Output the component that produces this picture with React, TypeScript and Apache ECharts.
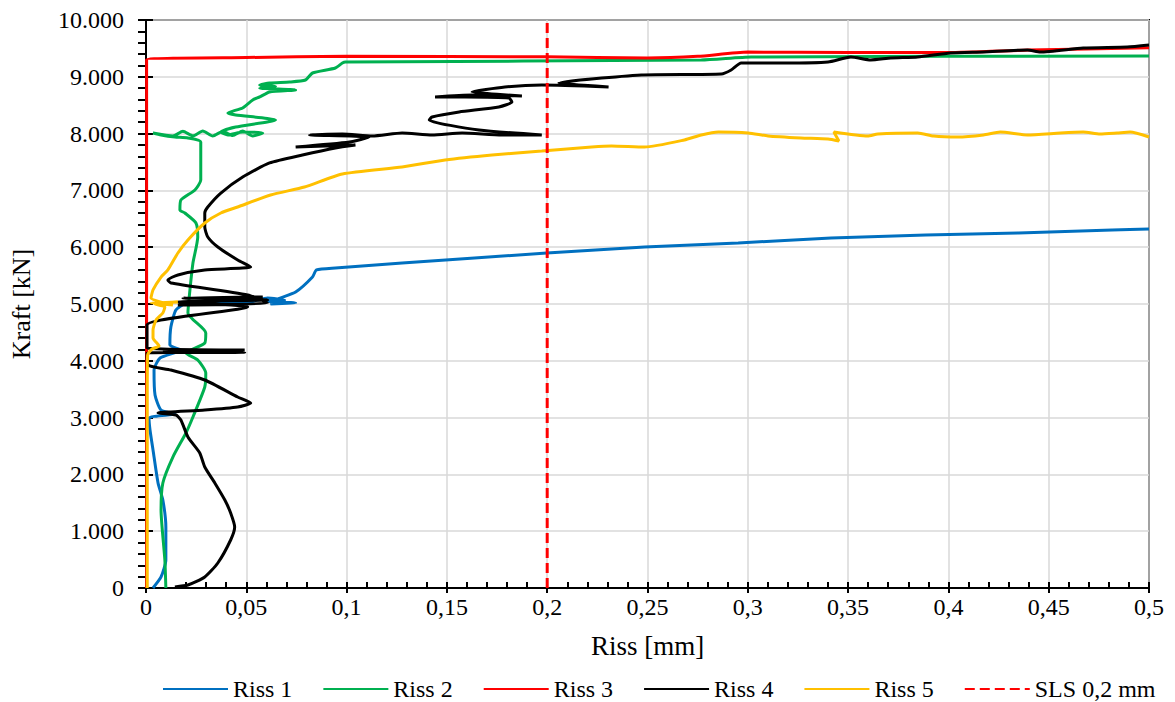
import React, { useEffect, useRef } from 'react';
import * as echarts from 'echarts';

// [Riss (mm), Kraft (kN)]
const riss1 = [
  [0.0035, 0], [0.0075, 194], [0.0099, 493], [0.0099, 1074], [0.0084, 1549], [0.006, 1849],
  [0.0035, 2430], [0.002, 2782], [0.0015, 2993], [0.0144, 3063], [0.0075, 3134], [0.0045, 3398],
  [0.004, 3838], [0.007, 4049], [0.0174, 4190], [0.0119, 4278], [0.0124, 4595], [0.0149, 4894],
  [0.0194, 5000], [0.0517, 5035], [0.0606, 5106], [0.0691, 5070], [0.0591, 5053], [0.0746, 5018],
  [0.0621, 5000], [0.0656, 5088], [0.0746, 5211], [0.083, 5475], [0.085, 5599], [0.0944, 5634],
  [0.1277, 5722], [0.1998, 5898], [0.2485, 6004], [0.2952, 6074], [0.3415, 6162], [0.3887, 6215],
  [0.4349, 6250], [0.4816, 6303], [0.5, 6320],
];

const riss2 = [
  [0.0099, 0], [0.0094, 493], [0.0075, 1373], [0.0084, 1849], [0.0134, 2306], [0.0199, 2729],
  [0.0234, 3011], [0.0293, 3539], [0.0298, 3785], [0.0258, 4014], [0.0199, 4137], [0.0293, 4313],
  [0.0298, 4490], [0.0209, 4842], [0.0219, 5247], [0.0234, 5722], [0.0258, 6180], [0.0249, 6426],
  [0.0194, 6602], [0.0169, 6655], [0.0174, 6831], [0.0244, 7007], [0.0273, 7183], [0.0273, 7852],
  [0.0209, 7923], [0.0144, 7940], [0.0075, 7976], [0.0035, 8011], [0.0134, 7958], [0.0184, 8040],
  [0.0234, 7960], [0.0283, 8046], [0.0333, 7958], [0.0383, 8040], [0.0432, 7965], [0.0482, 8046],
  [0.0532, 7958], [0.0582, 8011], [0.0482, 8028], [0.0408, 7976], [0.0373, 8028], [0.0447, 8116],
  [0.0646, 8240], [0.0447, 8328], [0.0408, 8363], [0.0482, 8451], [0.0532, 8592], [0.0567, 8645],
  [0.0616, 8733], [0.0746, 8768], [0.0567, 8800], [0.0646, 8830], [0.0567, 8856], [0.0616, 8891],
  [0.0716, 8908], [0.0795, 8944], [0.083, 9067], [0.0944, 9155], [0.0979, 9243], [0.0994, 9261],
  [0.2768, 9296], [0.3017, 9349], [0.5, 9366],
];

const riss3 = [
  [0.0003, 0], [0.0003, 9300], [0.05, 9340], [0.1, 9360], [0.2, 9352], [0.25, 9330],
  [0.275, 9360], [0.3, 9435], [0.35, 9430], [0.4, 9428], [0.44, 9470], [0.5, 9510],
];

const riss4 = [
  [0.0144, 18], [0.0209, 53], [0.0293, 194], [0.0358, 440], [0.0422, 845], [0.0442, 1074],
  [0.0422, 1320], [0.0393, 1549], [0.0343, 1849], [0.0293, 2130], [0.0268, 2377], [0.0209, 2658],
  [0.0174, 2958], [0.0149, 3046], [0.006, 3081], [0.0293, 3134], [0.0457, 3187], [0.0522, 3257],
  [0.0457, 3363], [0.0293, 3662], [0.0124, 3838], [0.001, 3926], [0.0005, 4137], [0.0492, 4150],
  [0.0084, 4190], [0.0492, 4190], [0.0005, 4230], [0.0005, 4630], [0.0507, 4947], [0.0159, 5035],
  [0.0606, 5070], [0.0184, 5106], [0.0582, 5123], [0.0159, 4982], [0.0606, 5018], [0.0507, 5159],
  [0.0124, 5370], [0.0109, 5423], [0.0159, 5511], [0.0293, 5599], [0.0522, 5652], [0.0457, 5775],
  [0.0358, 6004], [0.0308, 6180], [0.0293, 6356], [0.0293, 6602], [0.0308, 6708], [0.0373, 6954],
  [0.0482, 7236], [0.0616, 7483], [0.078, 7623], [0.0944, 7747], [0.1044, 7800], [0.0746, 7764],
  [0.1014, 7852], [0.1113, 7940], [0.0815, 7976], [0.0979, 7994], [0.1128, 7958], [0.1277, 8011],
  [0.1426, 7976], [0.1576, 8011], [0.1774, 7976], [0.1973, 7976], [0.166, 8063], [0.1412, 8240],
  [0.1426, 8293], [0.1561, 8381], [0.1759, 8469], [0.1824, 8557], [0.1809, 8627], [0.159, 8645],
  [0.1441, 8645], [0.1625, 8680], [0.1874, 8663], [0.1625, 8733], [0.1789, 8821], [0.1973, 8856],
  [0.2306, 8821], [0.2058, 8891], [0.247, 9032], [0.2868, 9049], [0.2917, 9120], [0.2967, 9243],
  [0.3181, 9243], [0.34, 9261], [0.3514, 9349], [0.3613, 9296], [0.3713, 9331], [0.3847, 9349],
  [0.4011, 9419], [0.4175, 9437], [0.4394, 9472], [0.4458, 9437], [0.4672, 9507], [0.4891, 9525],
  [0.5, 9560],
];

const riss5 = [
  [0.0006, 0], [0.0006, 3310], [0.0008, 4102], [0.003, 4208], [0.0065, 4261], [0.0035, 4402],
  [0.0035, 4542], [0.005, 4718], [0.0084, 4842], [0.0094, 4947], [0.0045, 5000], [0.0159, 5035],
  [0.0025, 5018], [0.0134, 4982], [0.0025, 5106], [0.0035, 5247], [0.0075, 5475], [0.0109, 5599],
  [0.0159, 5898], [0.0209, 6127], [0.0293, 6426], [0.0373, 6602], [0.0457, 6708], [0.0621, 6919],
  [0.079, 7060], [0.0979, 7289], [0.1277, 7412], [0.1491, 7535], [0.1725, 7623], [0.1973, 7694],
  [0.2222, 7764], [0.2321, 7782], [0.2485, 7764], [0.2684, 7888], [0.2768, 7976], [0.2853, 8028],
  [0.3002, 8011], [0.3101, 7958], [0.3265, 7923], [0.34, 7905], [0.3454, 7870], [0.3429, 8028],
  [0.3598, 7958], [0.3648, 7993], [0.3847, 8011], [0.3926, 7958], [0.4046, 7940], [0.4175, 7976],
  [0.4259, 8028], [0.4394, 7976], [0.4558, 8011], [0.4672, 8028], [0.4756, 7993], [0.4841, 8011],
  [0.4906, 8028], [0.5, 7940],
];

const slsLine = [[0.2, 0], [0.2, 10000]];

const seriesNames = ['Riss 1', 'Riss 2', 'Riss 3', 'Riss 4', 'Riss 5', 'SLS 0,2 mm'];
const seriesColors = ['#0070C0', '#00B050', '#FF0000', '#000000', '#FFC000', '#FF0000'];
const seriesData = [riss1, riss2, riss3, riss4, riss5, slsLine];

const xMin = 0, xMax = 0.5, xStep = 0.05;
const yMin = 0, yMax = 10000, yStep = 1000;

export default function App() {
  const ref = useRef<HTMLDivElement>(null);
  useEffect(() => {
    document.body.style.margin = '0';
    const chart = echarts.init(ref.current!, null, { renderer: 'svg' });
    const font = 'Times New Roman, Liberation Serif, Tinos, DejaVu Serif, serif';
    const fmtY = (v: number) => {
      if (v === 0) return '0';
      const k = Math.floor(v / 1000);
      const r = Math.round(v % 1000);
      return k + '.' + String(r).padStart(3, '0');
    };
    const fmtX = (v: number) => String(parseFloat(v.toFixed(2))).replace('.', ',');
    const black = { color: '#000', width: 2 };
    chart.setOption({
      animation: false,
      backgroundColor: '#fff',
      grid: { left: 143, right: 26, top: 20, bottom: 114, show: true, borderColor: '#000', borderWidth: 2 },
      xAxis: [
        {
          type: 'value', min: xMin, max: xMax, interval: xStep, position: 'bottom',
          axisLine: { lineStyle: black },
          axisTick: { length: 5, lineStyle: black },
          axisLabel: { formatter: fmtX, color: '#000', fontFamily: font, fontSize: 24, margin: 7 },
          splitLine: { lineStyle: { color: '#d9d9d9', width: 1.5 } },
          name: 'Riss [mm]', nameLocation: 'middle', nameGap: 44,
          nameTextStyle: { color: '#000', fontFamily: font, fontSize: 27 },
        },
        {
          type: 'value', min: xMin, max: xMax, interval: xStep, position: 'bottom',
          axisLine: { show: false },
          axisTick: { show: true, inside: true, length: 6, lineStyle: black },
          minorTick: { show: true, splitNumber: 5, length: 6, lineStyle: black },
          axisLabel: { show: false }, splitLine: { show: false },
        },
      ],
      yAxis: [
        {
          type: 'value', min: yMin, max: yMax, interval: yStep, position: 'left',
          axisLine: { show: true, lineStyle: black },
          axisTick: { show: true, length: 8, lineStyle: black },
          minorTick: { show: true, splitNumber: 5, length: 8, lineStyle: black },
          axisLabel: { formatter: fmtY, color: '#000', fontFamily: font, fontSize: 24, margin: 22 },
          splitLine: { lineStyle: { color: '#d9d9d9', width: 1.5 } },
          name: 'Kraft [kN]', nameLocation: 'middle', nameGap: 112,
          nameTextStyle: { color: '#000', fontFamily: font, fontSize: 26 },
        },
        {
          type: 'value', min: yMin, max: yMax, interval: yStep, position: 'left',
          axisLine: { show: false },
          axisTick: { show: true, inside: true, length: 7, lineStyle: black },
          axisLabel: { show: false }, splitLine: { show: false },
        },
      ],
      legend: {
        top: 672, left: 157, itemWidth: 65, itemHeight: 14, itemGap: 30,
        itemStyle: { opacity: 0, color: 'rgba(0,0,0,0)', borderWidth: 0 },
        textStyle: { color: '#000', fontFamily: font, fontSize: 24 },
        data: seriesNames,
      },
      series: seriesNames.map((name, i) => ({
        name, type: 'line', data: seriesData[i], xAxisIndex: 0, yAxisIndex: 0,
        symbol: 'none', showSymbol: false, smooth: i === 5 ? false : 0.2,
        clip: true,
        itemStyle: { color: seriesColors[i] },
        lineStyle: { color: seriesColors[i], width: 3, type: i === 5 ? [10, 5] : 'solid' },
      })),
    });
    return () => chart.dispose();
  }, []);
  return <div ref={ref} style={{ width: 1175, height: 702 }} />;
}
